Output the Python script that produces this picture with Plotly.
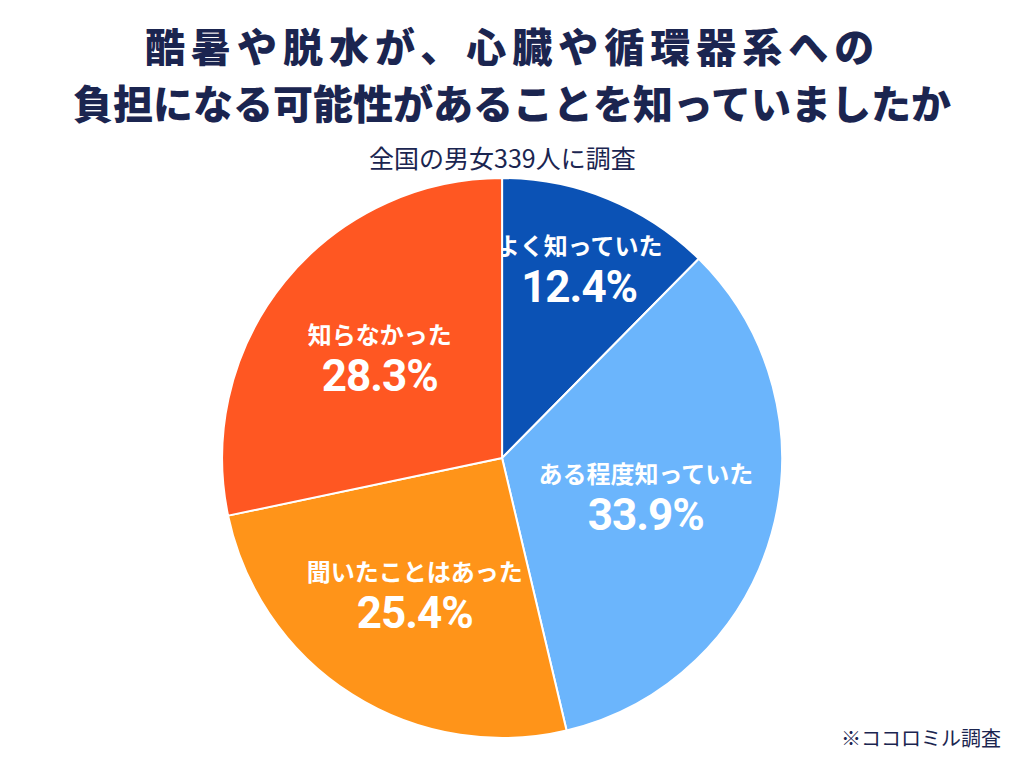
import plotly.graph_objects as go

# ---------- data ----------
labels = ["よく知っていた", "ある程度知っていた", "聞いたことはあった", "知らなかった"]
values = [12.4, 33.9, 25.4, 28.3]
colors = ["#0b52b5", "#6bb5fc", "#ff9419", "#ff5722"]

title_lines = ["酷暑や脱水が、心臓や循環器系への", "負担になる可能性があることを知っていましたか"]
subtitle = "全国の男女339人に調査"
source = "※ココロミル調査"

FONT = "Noto Sans CJK JP"
NUM_FONT = "Roboto, Noto Sans CJK JP"
NAVY = "#1b2550"

# page body has an 8px margin, so positions below are shifted by that
fig = go.Figure()
fig.add_trace(go.Pie(
    labels=labels,
    values=values,
    sort=False,
    direction="clockwise",
    rotation=0,
    marker=dict(colors=colors, line=dict(color="white", width=2)),
    texttemplate=("<span style='font-family:Noto Sans CJK JP;font-size:24px'><b>%{label}</b></span>"
                  "<br><span style='font-size:44px;letter-spacing:-1px'><b>%{value:.1f}%</b></span>"),
    textposition="inside",
    insidetextorientation="horizontal",
    textfont=dict(family=NUM_FONT, size=36, color="white"),
    hoverinfo="label+percent",
    showlegend=False,
    domain=dict(x=[0.209, 0.756], y=[0.0495, 0.7786]),
))

# title lines
fig.add_annotation(text="<span style='letter-spacing:6px'>" + title_lines[0] + "</span>",
                   x=0.4922, y=1 - 37 / 768, xref="paper", yref="paper", yanchor="middle",
                   showarrow=False, font=dict(family=FONT, size=40, color=NAVY, weight=900))
fig.add_annotation(text=title_lines[1],
                   x=0.4922, y=1 - 94 / 768, xref="paper", yref="paper", yanchor="middle",
                   showarrow=False, font=dict(family=FONT, size=40, color=NAVY, weight=900))
fig.add_annotation(text=subtitle, x=0.483, y=1 - 149 / 768, xref="paper", yref="paper",
                   yanchor="middle", showarrow=False,
                   font=dict(family=FONT, size=25, color=NAVY))
fig.add_annotation(text=source, x=0.972, y=1 - 729 / 768, xref="paper", yref="paper",
                   xanchor="right", yanchor="middle", showarrow=False,
                   font=dict(family=FONT, size=20, color=NAVY))

fig.update_layout(
    width=1024, height=768,
    margin=dict(l=0, r=0, t=0, b=0),
    paper_bgcolor="white",
    plot_bgcolor="white",
    font=dict(family=FONT),
    uniformtext=dict(mode="show", minsize=36),  # keep slice labels from shrinking
)

fig.write_html("out.html")
